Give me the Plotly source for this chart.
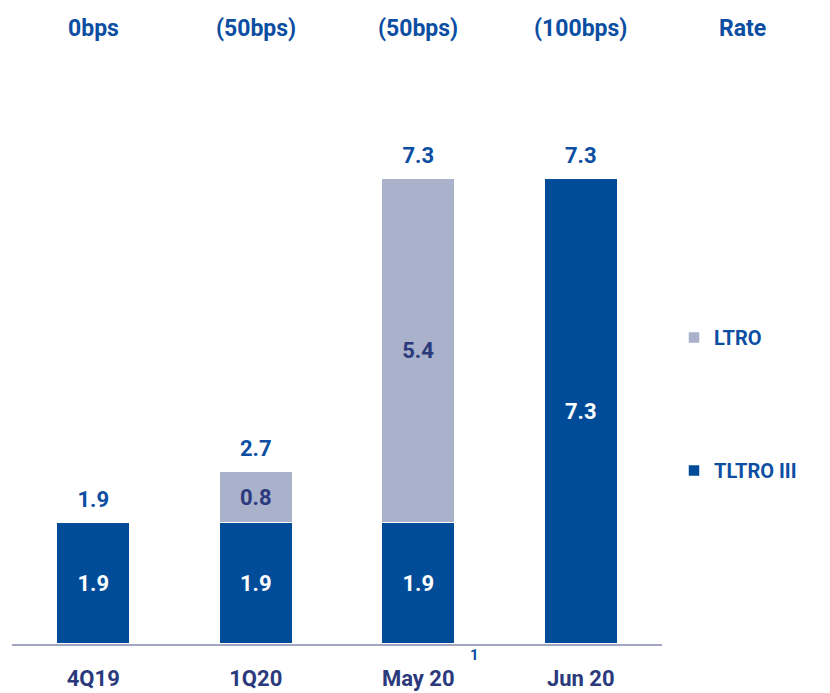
import plotly.graph_objects as go

categories = ["4Q19", "1Q20", "May 20", "Jun 20"]
tltro = [1.9, 1.9, 1.9, 7.3]
ltro = [0, 0.8, 5.4, 0]
totals = [1.9, 2.7, 7.3, 7.3]
rates = ["0bps", "(50bps)", "(50bps)", "(100bps)"]
rate_label = "Rate"
footnote = "1"

DARK = "#004C99"
LIGHT = "#A9B1CB"
NAVY = "#2B3A7C"
HEAD = "#0B4EA2"
FONT = "Roboto, Arial"

# page offset (body margin) compensation
OFF = 8
PLOT_L, PLOT_R, PLOT_T, AXIS_Y = 12, 662, 30, 644
W, H = 830, 693
ml = PLOT_L - OFF
mr = W - (PLOT_R - OFF)
mt = PLOT_T - OFF
mb = (H + OFF) - AXIS_Y
plot_h = AXIS_Y - PLOT_T
ymax = plot_h / (466 / 7.3)

ltro_text = [f"{v:.1f}" if v > 0 else "" for v in ltro]
tltro_text = [f"{v:.1f}" for v in tltro]

fig = go.Figure()
fig.add_bar(x=categories, y=tltro, name="TLTRO III", legendgroup="t", legendrank=2,
            marker=dict(color=DARK, line=dict(color="white", width=1.5)),
            text=tltro_text, textposition="inside", insidetextanchor="middle",
            textfont=dict(color="white", size=22, family=FONT, weight="bold"),
            hoverinfo="skip")
fig.add_bar(x=categories, y=ltro, name="LTRO", legendgroup="l", legendrank=1,
            marker=dict(color=LIGHT, line=dict(color="white", width=1.5)),
            text=ltro_text, textposition="inside", insidetextanchor="middle",
            textfont=dict(color=NAVY, size=22, family=FONT, weight="bold"),
            hoverinfo="skip")
fig.add_scatter(x=categories, y=totals, mode="markers+text", text=[f"{v:.1f}" for v in totals],
                textposition="top center", showlegend=False,
                marker=dict(size=14, opacity=0),
                textfont=dict(color=HEAD, size=22, family=FONT, weight="bold"),
                hoverinfo="skip")

for i, r in enumerate(rates):
    fig.add_annotation(x=categories[i], xref="x", y=1, yref="paper",
                       xanchor="center", yanchor="middle", yshift=(PLOT_T - 28),
                       text=r, showarrow=False,
                       font=dict(color=HEAD, size=23, family=FONT, weight="bold"))
fig.add_annotation(x=(742 - PLOT_L) / (PLOT_R - PLOT_L), xref="paper", y=1, yref="paper",
                   xanchor="center", yanchor="middle", yshift=(PLOT_T - 28),
                   text=rate_label, showarrow=False,
                   font=dict(color=HEAD, size=23, family=FONT, weight="bold"))
fig.add_annotation(x=categories[2], xref="x", xshift=56, y=0, yref="paper",
                   xanchor="center", yanchor="middle", yshift=-(655 - AXIS_Y),
                   text=footnote, showarrow=False,
                   font=dict(color=HEAD, size=15, family=FONT, weight="bold"))

fig.update_layout(
    width=W, height=H,
    margin=dict(l=ml, r=mr, t=mt, b=mb),
    barmode="stack", bargap=0.55,
    plot_bgcolor="white", paper_bgcolor="white",
    showlegend=True,
    legend=dict(x=(674 - PLOT_L) / (PLOT_R - PLOT_L), xanchor="left",
                y=(AXIS_Y - 318) / plot_h, yanchor="top",
                traceorder="grouped", tracegroupgap=104,
                font=dict(color=HEAD, size=20, family=FONT, weight="bold"),
                bgcolor="rgba(0,0,0,0)"),
    xaxis=dict(showline=True, linecolor="#A3A6C2", linewidth=2, ticks="",
               ticklabelstandoff=14,
               tickfont=dict(color=NAVY, size=22, family=FONT, weight="bold"),
               showgrid=False, fixedrange=True),
    yaxis=dict(range=[0, ymax], visible=False, showgrid=False, zeroline=False),
    uniformtext=dict(minsize=10, mode="show"),
)

fig.write_html("out.html")
